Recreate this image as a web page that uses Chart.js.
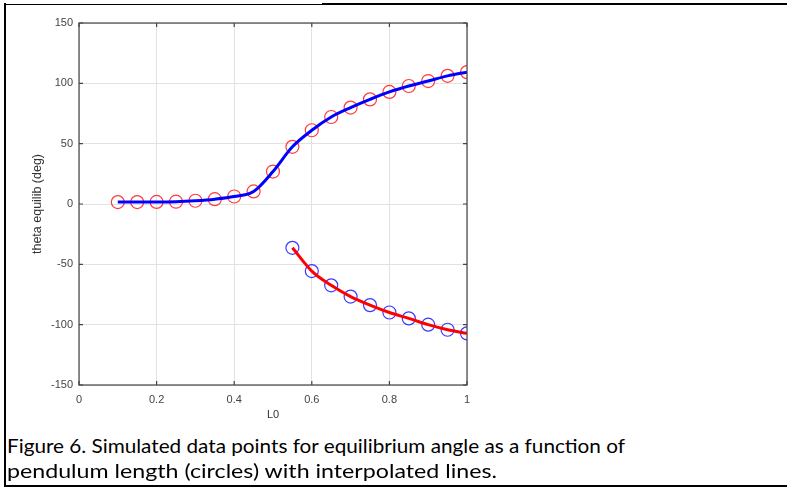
<!DOCTYPE html>
<html>
<head>
<meta charset="utf-8">
<script src="https://cdn.jsdelivr.net/npm/chart.js@4"></script>
<style>
  body { margin: 0; background: #fff; }
  #page { position: relative; width: 787px; height: 488px; overflow: hidden; }
  #chart { position: absolute; left: 0; top: 0; }
  .rule { position: absolute; background: #000; }
  .cap { position: absolute; left: 7px; font-family: 'Lato', 'Noto Sans', sans-serif; font-size: 20px;
         white-space: nowrap; transform-origin: 0 0; color: #000; }
</style>
</head>
<body>
<div id="page">
  <canvas id="chart" width="787" height="425"></canvas>
  <div class="rule" style="left:4px;top:3px;width:2px;height:484px"></div>
  <div class="rule" style="left:4px;top:4px;width:318px;height:1px"></div>
  <div class="rule" style="left:322px;top:3px;width:465px;height:2px"></div>
  <div class="rule" style="left:4px;top:485px;width:783px;height:2px"></div>
  <div class="cap" id="cap1" style="top:433px">Figure 6. Simulated data points for equilibrium angle as a function of</div>
  <div class="cap" id="cap2" style="top:458px">pendulum length (circles) with interpolated lines.</div>
</div>
<script>
'use strict'
// pendulum length and equilibrium angle
let upperL0 = [0.1, 0.15, 0.2, 0.25, 0.3, 0.35, 0.4, 0.45, 0.5, 0.55, 0.6, 0.65, 0.7, 0.75, 0.8, 0.85, 0.9, 0.95, 1.0],
    upperTheta = [1.6, 1.6, 1.7, 1.9, 2.7, 4.0, 6.2, 10.4, 26.9, 47.4, 61.1, 72.1, 79.9, 86.7, 92.9, 97.8, 101.9, 106.2, 109.3],
    lowerL0 = [0.55, 0.6, 0.65, 0.7, 0.75, 0.8, 0.85, 0.9, 0.95, 1.0],
    lowerTheta = [-36.3, -55.6, -67.4, -76.7, -83.8, -89.9, -94.8, -100.0, -104.2, -107.2],
    xTicks = [0, 0.2, 0.4, 0.6, 0.8, 1],
    yTicks = [-150, -100, -50, 0, 50, 100, 150]

let pts = function (xs, ys) {
    return xs.map((x, i) => ({x: x, y: ys[i]}))
}

// box round the plot with small inward ticks, like octave does
let frame = {
    id: 'frame',
    afterDatasetsDraw(chart) {
        let ctx = chart.ctx, a = chart.chartArea
        let xs = chart.scales.x, ys = chart.scales.y
        ctx.save()
        ctx.strokeStyle = '#444'
        ctx.lineWidth = 1.2
        ctx.strokeRect(a.left, a.top, a.right - a.left, a.bottom - a.top)
        ctx.beginPath()
        xTicks.forEach(v => {
            let px = xs.getPixelForValue(v)
            ctx.moveTo(px, a.top); ctx.lineTo(px, a.top + 4)
            ctx.moveTo(px, a.bottom); ctx.lineTo(px, a.bottom - 4)
        })
        yTicks.forEach(v => {
            let py = ys.getPixelForValue(v)
            ctx.moveTo(a.left, py); ctx.lineTo(a.left + 4, py)
            ctx.moveTo(a.right, py); ctx.lineTo(a.right - 4, py)
        })
        ctx.stroke()
        ctx.restore()
    }
}

let tickFont = {family: "'Liberation Sans', Arial, sans-serif", size: 11}
let titleFont = {family: "'Liberation Sans', Arial, sans-serif", size: 12.5}

let myChart = new Chart(document.getElementById('chart'), {
    type: 'scatter',
    data: {
        datasets: [
            {data: pts(upperL0, upperTheta), showLine: true, borderColor: '#0000ff', borderWidth: 3,
             pointRadius: 0, cubicInterpolationMode: 'monotone'},
            {data: pts(lowerL0, lowerTheta), showLine: true, borderColor: '#ff0000', borderWidth: 3,
             pointRadius: 0, cubicInterpolationMode: 'monotone'},
            {data: pts(upperL0, upperTheta), showLine: false, pointRadius: 6.5, pointBorderWidth: 1.2,
             pointBorderColor: '#ff3a3a', pointBackgroundColor: 'rgba(0,0,0,0)'},
            {data: pts(lowerL0, lowerTheta), showLine: false, pointRadius: 6.5, pointBorderWidth: 1.2,
             pointBorderColor: '#3a3aff', pointBackgroundColor: 'rgba(0,0,0,0)'}
        ]
    },
    options: {
        responsive: false,
        animation: false,
        layout: {padding: {left: 0, top: 23, right: 320, bottom: 0}},
        plugins: {legend: {display: false}, tooltip: {enabled: false}},
        scales: {
            x: {
                type: 'linear', min: 0, max: 1,
                afterBuildTicks: s => { s.ticks = xTicks.map(v => ({value: v})) },
                afterFit: s => { s.height = 40 },
                grid: {color: '#e2e2e2', drawTicks: false},
                border: {display: false},
                ticks: {color: '#444', font: tickFont, padding: 8, callback: v => String(Math.round(v * 10) / 10)},
                title: {display: true, text: 'L0', color: '#333', font: tickFont, padding: {top: 1, bottom: 3}}
            },
            y: {
                min: -150, max: 150,
                afterBuildTicks: s => { s.ticks = yTicks.map(v => ({value: v})) },
                afterFit: s => { s.width = 79 },
                grid: {color: '#e2e2e2', drawTicks: false},
                border: {display: false},
                ticks: {color: '#444', font: tickFont, padding: 6},
                title: {display: true, text: 'theta equilib (deg)', color: '#333', font: titleFont, padding: {top: 30, bottom: 0}}
            }
        }
    },
    plugins: [frame]
})

// squeeze the caption lines to the width they take in the figure
let fit = function (id, w) {
    let el = document.getElementById(id)
    let r = w / el.getBoundingClientRect().width
    el.style.transform = 'scaleX(' + r + ')'
}
fit('cap1', 618)
fit('cap2', 490)
</script>
</body>
</html>
